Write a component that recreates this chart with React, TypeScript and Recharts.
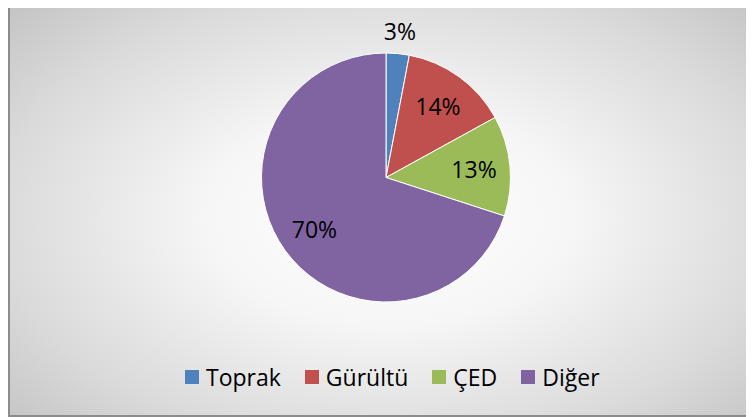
import React from "react";
import { PieChart, Pie, Cell, Legend } from "recharts";

const categories = ["Toprak", "Gürültü", "ÇED", "Diğer"];
const values = [3, 14, 13, 70];
const colors = ["#4f81bd", "#c0504d", "#9bbb59", "#8064a2"];

const data = categories.map((name, i) => ({ name, value: values[i] }));

const FONT = "'Open Sans', sans-serif";
const RAD = Math.PI / 180;

const renderLabel = (props: any) => {
  const { cx, cy, midAngle, outerRadius, value, index } = props;
  const r = index === 0 ? outerRadius * 1.18 : outerRadius * 0.71;
  const x = cx + r * Math.cos(-midAngle * RAD);
  const y = cy + r * Math.sin(-midAngle * RAD);
  return (
    <text
      x={x}
      y={y}
      textAnchor="middle"
      dominantBaseline="central"
      fill="#000"
      style={{ fontFamily: FONT, fontSize: 23 }}
    >
      {`${value}%`}
    </text>
  );
};

const renderLegend = () => (
  <div style={{ display: "flex", alignItems: "center", fontFamily: FONT, fontSize: 23, color: "#000" }}>
    {categories.map((c, i) => (
      <div key={c} style={{ display: "flex", alignItems: "center", marginRight: 24 }}>
        <div style={{ width: 14, height: 14, background: colors[i], marginRight: 7 }} />
        <span style={{ lineHeight: "24px" }}>{c}</span>
      </div>
    ))}
  </div>
);

export default function App() {
  return (
    <div
      style={{
        position: "relative",
        marginTop: -6,
        marginRight: -8,
        width: 744,
        height: 411,
        borderLeft: "2px solid #8c8c8c",
        borderTop: "2px solid #8c8c8c",
        borderBottom: "2px solid #8c8c8c",
        background:
          "radial-gradient(ellipse 70% 75% at 51% 52%, #ffffff 0%, #f6f6f6 35%, #dadada 75%, #c4c4c4 100%)",
        overflow: "hidden",
      }}
    >
      <PieChart width={744} height={411} margin={{ top: 0, right: 0, bottom: 0, left: 0 }}>
        <Pie
          data={data}
          dataKey="value"
          nameKey="name"
          cx={376}
          cy={173.5}
          outerRadius={124.5}
          startAngle={90}
          endAngle={-270}
          stroke="#ffffff"
          strokeWidth={1}
          label={renderLabel}
          labelLine={false}
          isAnimationActive={false}
        >
          {data.map((d, i) => (
            <Cell key={d.name} fill={colors[i]} />
          ))}
        </Pie>
        <Legend
          content={renderLegend}
          wrapperStyle={{ position: "absolute", left: 175, top: 361, width: 500 }}
        />
      </PieChart>
    </div>
  );
}
